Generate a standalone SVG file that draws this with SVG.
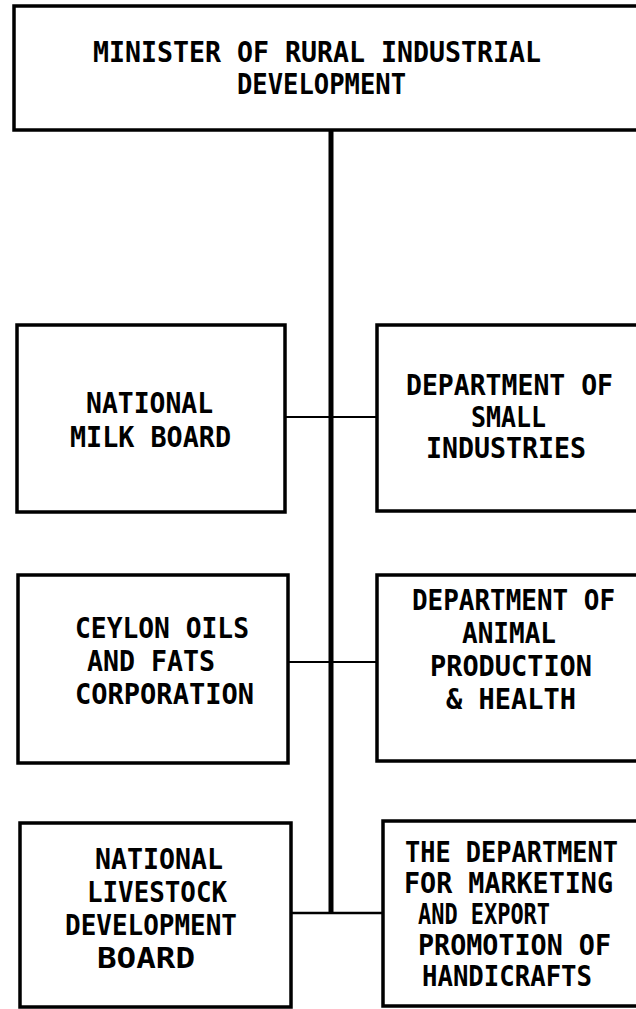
<svg xmlns="http://www.w3.org/2000/svg" width="636" height="1009" viewBox="0 0 636 1009">
<style>
.box{fill:#fff;stroke:#000;stroke-width:3.5}
.t{font-family:"DejaVu Sans Mono","Liberation Mono",monospace;font-weight:bold;font-size:28px;fill:#000}
.trunk{stroke:#000;stroke-width:5;fill:none}
.conn{stroke:#000;stroke-width:2;fill:none}
</style>
<rect width="636" height="1009" fill="#fff"/>
<g id="connectors">
<line class="trunk" x1="331" y1="130" x2="331" y2="914"/>
<line class="conn" x1="285" y1="417" x2="377" y2="417"/>
<line class="conn" x1="288" y1="662" x2="377" y2="662"/>
<line class="conn" x1="291" y1="913" x2="383" y2="913" style="stroke-width:2.5"/>
</g>
<g id="minister">
<rect class="box" x="14" y="6" width="624" height="124"/>
<text class="t" x="93" y="62" textLength="448" lengthAdjust="spacingAndGlyphs">MINISTER OF RURAL INDUSTRIAL</text>
<text class="t" x="237" y="94" textLength="169" lengthAdjust="spacingAndGlyphs">DEVELOPMENT</text>
</g>
<g id="milk-board">
<rect class="box" x="17" y="325" width="268" height="187"/>
<text class="t" x="86" y="413" textLength="127" lengthAdjust="spacingAndGlyphs">NATIONAL</text>
<text class="t" x="70" y="447" textLength="161" lengthAdjust="spacingAndGlyphs">MILK BOARD</text>
</g>
<g id="small-industries">
<rect class="box" x="377" y="325" width="261" height="186"/>
<text class="t" x="406" y="395" textLength="207" lengthAdjust="spacingAndGlyphs">DEPARTMENT OF</text>
<text class="t" x="471" y="427" textLength="75" lengthAdjust="spacingAndGlyphs">SMALL</text>
<text class="t" x="426" y="458" textLength="160" lengthAdjust="spacingAndGlyphs">INDUSTRIES</text>
</g>
<g id="ceylon-oils">
<rect class="box" x="18" y="575" width="270" height="188"/>
<text class="t" x="75" y="638" textLength="174" lengthAdjust="spacingAndGlyphs">CEYLON OILS</text>
<text class="t" x="87" y="671" textLength="128" lengthAdjust="spacingAndGlyphs">AND FATS</text>
<text class="t" x="75" y="704" textLength="179" lengthAdjust="spacingAndGlyphs">CORPORATION</text>
</g>
<g id="animal-production">
<rect class="box" x="377" y="575" width="261" height="186"/>
<text class="t" x="412" y="610" textLength="203" lengthAdjust="spacingAndGlyphs">DEPARTMENT OF</text>
<text class="t" x="462" y="643" textLength="94" lengthAdjust="spacingAndGlyphs">ANIMAL</text>
<text class="t" x="430" y="676" textLength="162" lengthAdjust="spacingAndGlyphs">PRODUCTION</text>
<text class="t" x="446" y="709" textLength="130" lengthAdjust="spacingAndGlyphs">&amp; HEALTH</text>
</g>
<g id="livestock-board">
<rect class="box" x="20" y="823" width="271" height="184"/>
<text class="t" x="95" y="869" textLength="128" lengthAdjust="spacingAndGlyphs">NATIONAL</text>
<text class="t" x="87" y="902" textLength="140" lengthAdjust="spacingAndGlyphs">LIVESTOCK</text>
<text class="t" x="65" y="935" textLength="172" lengthAdjust="spacingAndGlyphs">DEVELOPMENT</text>
<text class="t" x="97" y="968" textLength="98" lengthAdjust="spacingAndGlyphs">BOARD</text>
</g>
<g id="handicrafts">
<rect class="box" x="383" y="821" width="255" height="185"/>
<text class="t" x="405" y="862" textLength="213" lengthAdjust="spacingAndGlyphs">THE DEPARTMENT</text>
<text class="t" x="404" y="893" textLength="209" lengthAdjust="spacingAndGlyphs">FOR MARKETING</text>
<text class="t" x="418" y="924" textLength="132" lengthAdjust="spacingAndGlyphs">AND EXPORT</text>
<text class="t" x="418" y="955" textLength="193" lengthAdjust="spacingAndGlyphs">PROMOTION OF</text>
<text class="t" x="422" y="986" textLength="170" lengthAdjust="spacingAndGlyphs">HANDICRAFTS</text>
</g>
</svg>
